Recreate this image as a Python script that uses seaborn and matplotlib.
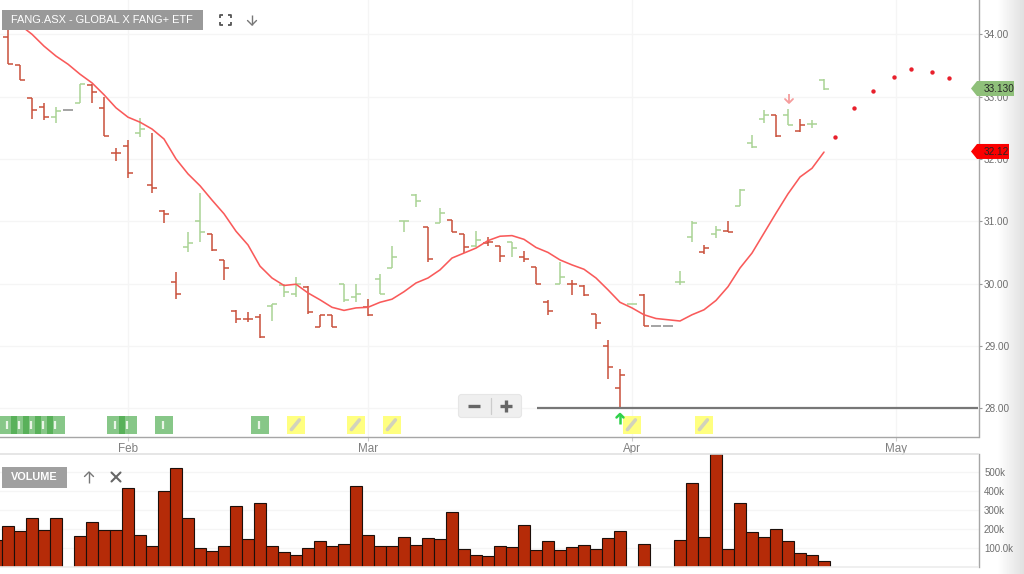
"""FANG.ASX bar chart with moving average and volume panel."""

import matplotlib
matplotlib.use("Agg")
import matplotlib.pyplot as plt
from matplotlib.patches import FancyBboxPatch, Polygon, Rectangle
import numpy as np
import pandas as pd
import seaborn as sns

# price bars, one entry per trading day (day 0 is the first visible one)
opens = [33.96, 33.50, 32.97, 32.84, 32.68, 32.79, 32.90, 33.19, 32.82, 32.10, 32.21, 32.41, 31.58, 31.16, 30.03, 30.58, 31.00, 30.80, 30.38, 29.56, 29.44, 29.46, 29.64, 29.98, 29.83, 29.95, 29.30, 29.50, 29.99, 29.78, 29.62, 30.08, 30.25, 31.01, 31.42, 30.91, 30.98, 31.02, 30.80, 30.60, 30.65, 30.61, 30.66, 30.42, 30.26, 29.71, 30.00, 29.99, 29.96, 29.51, 29.00, 28.33, 29.67, 29.81, 29.32, 29.32, 30.03, 30.74, 30.50, 30.80, 30.85, 31.25, 32.26, 32.64, 32.70, 32.70, 32.45, 32.56, 33.26]
highs = [34.07, 33.50, 32.97, 32.89, 32.83, 32.79, 33.20, 33.20, 33.00, 32.18, 32.30, 32.65, 32.41, 31.18, 30.19, 30.82, 31.46, 30.80, 30.38, 29.57, 29.54, 29.51, 29.68, 29.99, 30.10, 29.96, 29.50, 29.50, 30.00, 29.99, 29.75, 30.16, 30.60, 31.01, 31.43, 30.91, 31.21, 31.02, 30.80, 30.84, 30.75, 30.61, 30.66, 30.53, 30.26, 29.74, 30.35, 30.05, 29.97, 29.52, 29.10, 28.63, 29.67, 29.83, 29.32, 29.32, 30.20, 31.00, 30.62, 30.93, 31.00, 31.52, 32.38, 32.79, 32.70, 32.80, 32.64, 32.62, 33.28]
lows = [33.53, 33.27, 32.64, 32.63, 32.58, 32.79, 32.89, 32.89, 32.37, 31.97, 31.70, 32.35, 31.45, 30.97, 29.75, 30.50, 30.67, 30.52, 30.06, 29.36, 29.39, 29.12, 29.40, 29.79, 29.79, 29.52, 29.30, 29.30, 29.70, 29.71, 29.48, 29.83, 30.25, 30.82, 31.23, 30.34, 30.97, 30.82, 30.49, 30.59, 30.60, 30.34, 30.42, 30.35, 29.99, 29.50, 29.99, 29.82, 29.80, 29.27, 28.47, 28.00, 29.67, 29.32, 29.32, 29.32, 29.98, 30.67, 30.47, 30.73, 30.83, 31.25, 32.18, 32.57, 32.36, 32.54, 32.44, 32.49, 33.11]
closes = [33.53, 33.27, 32.79, 32.68, 32.77, 32.79, 33.20, 33.07, 32.37, 32.10, 31.78, 32.48, 31.53, 31.11, 29.84, 30.65, 30.83, 30.54, 30.25, 29.44, 29.44, 29.15, 29.68, 29.87, 30.00, 29.55, 29.50, 29.31, 29.74, 29.84, 29.49, 29.84, 30.42, 31.01, 31.33, 30.40, 31.14, 30.83, 30.59, 30.70, 30.66, 30.44, 30.57, 30.40, 29.99, 29.56, 30.11, 29.99, 29.81, 29.36, 28.66, 28.54, 29.67, 29.32, 29.32, 29.32, 30.03, 30.97, 30.57, 30.86, 30.83, 31.50, 32.19, 32.70, 32.37, 32.55, 32.54, 32.56, 33.12]
bar_dirs = list("rrrrgngrrrrgrrrggrrrrrgggrrrggrggggrgrrgrrgrrrgrrrrr") + list("grnnggrgrgggrgrgg")

moving_avg = [34.28, 34.15, 34.00, 33.81, 33.65, 33.52, 33.36, 33.22, 33.03, 32.82, 32.67, 32.59, 32.48, 32.32, 32.00, 31.76, 31.57, 31.34, 31.12, 30.84, 30.62, 30.28, 30.09, 29.97, 29.99, 29.85, 29.74, 29.62, 29.57, 29.61, 29.62, 29.70, 29.75, 29.87, 30.01, 30.09, 30.22, 30.41, 30.49, 30.57, 30.69, 30.76, 30.77, 30.71, 30.58, 30.50, 30.38, 30.30, 30.23, 30.09, 29.90, 29.70, 29.61, 29.50, 29.44, 29.42, 29.40, 29.50, 29.58, 29.73, 29.95, 30.25, 30.49, 30.81, 31.13, 31.44, 31.71, 31.85, 32.11]

# dotted projection past the last bar
proj_days = [68.94, 70.5, 72.08, 73.86, 75.25, 77.0, 78.4]
proj_vals = [32.35, 32.81, 33.09, 33.31, 33.44, 33.40, 33.30]

# volume starts one day earlier, that bar is cut off by the left edge
volume = [143, 218, 190, 256, 193, 256, None, 165, 237, 193, 193, 415, 171, 113, 397, 521, 256, 103, 84, 113, 319, 146, 338, 113, 78, 64, 103, 136, 113, 122, 425, 171, 113, 113, 160, 118, 152, 146, 291, 98, 64, 59, 113, 108, 223, 89, 136, 89, 108, 118, 98, 152, 188, None, 122, None, None, 141, 439, 157, 594, 94, 338, 185, 157, 199, 136, 73, 64, 31]

month_days = [10, 30, 52, 74]
month_labels = ["Feb", "Mar", "Apr", "May"]
price_ticks = [28, 29, 30, 31, 32, 33, 34]
vol_ticks = [100, 200, 300, 400, 500]
vol_labels = ["100.0k", "200k", "300k", "400k", "500k"]

signal_days = [0, 1, 2, 3, 4, 9, 10, 13, 21]
note_days = [24, 29, 32, 52, 58]
support_level = 28.0
last_price = 33.13
stop_price = 32.12

W, H = 1024, 574
RED = "#c9503a"
GREEN = "#a9d394"
GREY = "#8a8a8a"
TEXT = "#6e6e6e"
GRID = "#f5f5f5"
dir_colors = {"r": RED, "g": GREEN, "n": GREY}

sns.set_theme(style="white")
plt.rcParams["font.family"] = ["Liberation Sans", "DejaVu Sans"]

fig = plt.figure(figsize=(W / 100, H / 100), dpi=100, facecolor="white")


def px_axes(left, top, right, bottom, **kw):
    return fig.add_axes([left / W, 1 - bottom / H, (right - left) / W, (bottom - top) / H], **kw)


# soft shadow on the right edge of the page
bg = px_axes(0, 0, W, H, zorder=0)
bg.axis("off")
shade = np.ones((2, W))
shade[:, 997:] = np.linspace(1, 0.88, W - 997)
bg.imshow(shade, cmap="gray", vmin=0, vmax=1, aspect="auto")

days = np.arange(len(opens))
xmin, xmax = -2 / 3, (978.5 - 8) / 12

# price panel
ax = px_axes(0, 0, 978.5, 436.5, zorder=1, facecolor="none")
ax.set_ylim(27.547, 34.55)
sns.lineplot(x=days, y=moving_avg, color="#f95a5a", linewidth=1.15, ax=ax, zorder=4)
sns.scatterplot(x=proj_days, y=proj_vals, color="#e8202c", s=10, linewidth=0, ax=ax, zorder=4)

for d, o, hi, lo, c, kind in zip(days, opens, highs, lows, closes, bar_dirs):
    col = dir_colors[kind]
    lw = 1.1
    if hi > lo:
        ax.vlines(d, lo, hi, color=col, linewidth=lw, zorder=3)
    ax.hlines(o, d - 0.38, d, color=col, linewidth=lw, zorder=3)
    ax.hlines(c, d, d + 0.38, color=col, linewidth=lw, zorder=3)

ax.hlines(support_level, 44.08, xmax, color="#777777", linewidth=1.6, zorder=3)

# signal and note flags along the bottom of the panel
flag_tr = ax.get_xaxis_transform()
for d in signal_days:
    ax.add_patch(Rectangle((d - 0.74, 0.0057), 1.5, 0.0415, transform=flag_tr, color="#3da53f", alpha=0.62, lw=0, zorder=2))
    ax.vlines(d - 0.08, 0.017, 0.036, transform=flag_tr, color="#e9f5e6", linewidth=1.6, zorder=3)
for d in note_days:
    ax.add_patch(Rectangle((d - 0.74, 0.0057), 1.5, 0.0415, transform=flag_tr, color="#ffff80", lw=0, zorder=2))
    ax.plot([d - 0.38, d + 0.28], [0.016, 0.038], transform=flag_tr, color="#d2d2bc", linewidth=2.6, zorder=3)

ax.set_xlim(xmin, xmax)
ax.set_yticks(price_ticks)
ax.set_yticklabels([f"{p:.2f}" for p in price_ticks], fontsize=7.2, color=TEXT)
ax.yaxis.tick_right()
ax.set_xticks(month_days)
ax.set_xticklabels(month_labels, fontsize=8.4, color="#808080")
ax.tick_params(axis="y", length=2.5, width=0.8, color="#999999", pad=1.5, right=True)
ax.tick_params(axis="x", length=3, width=0.8, color="#cccccc", pad=1.5, bottom=True)
ax.grid(True, color=GRID, linewidth=1)
ax.set_axisbelow(True)
for side in ["top", "left"]:
    ax.spines[side].set_visible(False)
for side in ["right", "bottom"]:
    ax.spines[side].set_color("#a6a6a6")
    ax.spines[side].set_linewidth(1.0)
ax.set_xlabel("")
ax.set_ylabel("")

# volume panel
vol_df = pd.DataFrame({"day": np.arange(-1, len(volume) - 1), "volume": volume}).dropna()
axv = px_axes(0, 453.5, 978.5, 567.4, zorder=1, facecolor="none")
sns.barplot(data=vol_df, x="day", y="volume", native_scale=True, width=1.0, color="#b52b08",
            saturation=1, edgecolor="#1c0f0a", linewidth=0.8, ax=axv)
axv.set_xlim(xmin, xmax)
axv.set_ylim(0, 595)
axv.set_xticks([])
axv.set_yticks(vol_ticks)
axv.set_yticklabels(vol_labels, fontsize=7, color=TEXT)
axv.yaxis.tick_right()
axv.tick_params(axis="y", length=0, pad=4)
axv.yaxis.grid(True, color=GRID, linewidth=1)
axv.set_axisbelow(True)
axv.spines["left"].set_visible(False)
axv.spines["right"].set_color("#a6a6a6")
axv.spines["right"].set_linewidth(1.0)
axv.spines["top"].set_color("#e2e2e2")
axv.spines["top"].set_linewidth(1.2)
axv.spines["bottom"].set_color("#ececec")
axv.spines["bottom"].set_linewidth(1.2)
axv.set_xlabel("")
axv.set_ylabel("")

# page furniture in pixel coordinates
ui = px_axes(0, 0, W, H, zorder=5, facecolor="none")
ui.set_xlim(0, W)
ui.set_ylim(H, 0)
ui.axis("off")

ui.add_patch(Rectangle((2, 10), 201, 20, color="#999999", lw=0))
ui.text(11, 20.3, "FANG.ASX - GLOBAL X FANG+ ETF", color="white", fontsize=7.95, va="center", ha="left")
ui.add_patch(Rectangle((2, 467), 65, 21, color="#a0a0a0", lw=0))
ui.text(34.5, 477.5, "VOLUME", color="white", fontsize=7.8, fontweight="bold", va="center", ha="center")

# fullscreen corners
for cx, cy, dx, dy in [(220, 15, 1, 1), (231, 15, -1, 1), (220, 25, 1, -1), (231, 25, -1, -1)]:
    ui.plot([cx + 3 * dx, cx, cx], [cy, cy, cy + 3 * dy], color="#555555", lw=1.3, solid_capstyle="butt")


def arrow(x, y0, y1, col, lw=1.0, head=4):
    ui.plot([x, x], [y0, y1], color=col, lw=lw, solid_capstyle="butt")
    sign = 1 if y1 > y0 else -1
    ui.plot([x - head, x, x + head], [y1 - sign * head, y1, y1 - sign * head], color=col, lw=lw)


arrow(252, 15, 25, "#777777", head=4.5)
arrow(89, 483, 472, "#777777", head=4.5)
ui.plot([111.5, 120.5], [472.5, 481.5], color="#666666", lw=1.5)
ui.plot([111.5, 120.5], [481.5, 472.5], color="#666666", lw=1.5)
arrow(620, 424, 414, "#2fd14a", lw=1.8, head=3.5)
arrow(789, 94, 103, "#f59c9c", lw=1.3, head=4)

# zoom control
ui.add_patch(FancyBboxPatch((459, 395), 62, 22, boxstyle="round,pad=0.5,rounding_size=3", fc="#efefef", ec="#e6e6e6", lw=0.8))
ui.plot([491, 491], [398, 414], color="#cccccc", lw=0.9)
ui.plot([468, 480], [406, 406], color="#666666", lw=2.4, solid_capstyle="butt")
ui.plot([500, 512], [406, 406], color="#666666", lw=2.4, solid_capstyle="butt")
ui.plot([506, 506], [400, 412], color="#666666", lw=2.4, solid_capstyle="butt")


def price_tag(val, label, fc, right):
    y = H - ax.transData.transform((0, val))[1]
    ui.add_patch(Polygon([(971, y), (977, y - 7.5), (right, y - 7.5), (right, y + 7.5), (977, y + 7.5)], closed=True, fc=fc, ec="none"))
    ui.text(983.5, y + 0.3, label, fontsize=7.2, color="#262626", va="center", ha="left")


price_tag(last_price, "33.130", "#8fc07a", 1014)
price_tag(stop_price, "32.12", "#fb0000", 1009)

fig.savefig("out.png", dpi=100)
